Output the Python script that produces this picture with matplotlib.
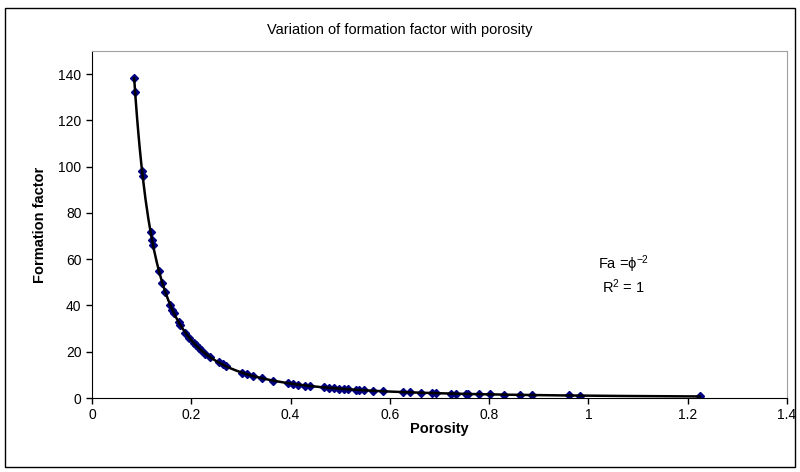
import numpy as np
import matplotlib
matplotlib.use("Agg")
import matplotlib.pyplot as plt
from matplotlib.patches import Rectangle

plt.rcParams["font.family"] = ["Liberation Sans", "DejaVu Sans"]
plt.rcParams["mathtext.fontset"] = "custom"
plt.rcParams["mathtext.rm"] = "Liberation Sans"
plt.rcParams["mathtext.it"] = "Liberation Sans:italic"

# porosity values
porosity = [0.085, 0.087, 0.101, 0.102, 0.118, 0.121, 0.123, 0.135, 0.142,
            0.148, 0.158, 0.162, 0.165, 0.175, 0.178, 0.188, 0.196, 0.205,
            0.21, 0.215, 0.22, 0.228, 0.238, 0.255, 0.263, 0.27, 0.303,
            0.313, 0.325, 0.343, 0.364, 0.394, 0.404, 0.414, 0.43, 0.44,
            0.467, 0.477, 0.487, 0.497, 0.507, 0.515, 0.531, 0.537, 0.547,
            0.566, 0.586, 0.626, 0.64, 0.663, 0.685, 0.693, 0.723, 0.733,
            0.754, 0.758, 0.779, 0.802, 0.83, 0.862, 0.887, 0.961, 0.984,
            1.224]
# formation factor values
formation = [138.4, 132.1, 98.0, 96.1, 71.8, 68.3, 66.1, 54.9, 49.6,
             45.7, 40.1, 38.1, 36.7, 32.7, 31.6, 28.3, 26.0, 23.8,
             22.7, 21.6, 20.7, 19.2, 17.7, 15.4, 14.5, 13.7, 10.9,
             10.2, 9.5, 8.5, 7.5, 6.4, 6.1, 5.8, 5.4, 5.2,
             4.6, 4.4, 4.2, 4.0, 3.9, 3.8, 3.5, 3.5, 3.3,
             3.1, 2.9, 2.6, 2.4, 2.3, 2.1, 2.1, 1.9, 1.9,
             1.8, 1.7, 1.6, 1.6, 1.5, 1.3, 1.3, 1.1, 1.0,
             0.7]

x_ticks = [0, 0.2, 0.4, 0.6, 0.8, 1, 1.2, 1.4]
x_labels = ["0", "0.2", "0.4", "0.6", "0.8", "1", "1.2", "1.4"]
y_ticks = [0, 20, 40, 60, 80, 100, 120, 140]

fig = plt.figure(figsize=(8, 4.72), dpi=100)
fig.patches.append(Rectangle((5 / 800, 5 / 472), 790 / 800, 459 / 472,
                             transform=fig.transFigure, fill=False,
                             edgecolor="black", linewidth=1))

ax = fig.add_axes([92 / 800, 1 - 398 / 472, 695 / 800, 347 / 472])

# power trendline fitted to the data (log-log least squares)
b, log_a = np.polyfit(np.log(porosity), np.log(formation), 1)
xs = np.linspace(min(porosity), max(porosity), 400)
ax.plot(xs, np.exp(log_a) * xs ** b, color="black", linewidth=1.8, zorder=3)

ax.plot(porosity, formation, linestyle="none", marker="D", markersize=4.5,
        color="#000080", markeredgecolor="#000080", zorder=2)

ax.set_xlim(0, 1.4)
ax.set_ylim(0, 150)
ax.set_xticks(x_ticks)
ax.set_xticklabels(x_labels)
ax.set_yticks(y_ticks)
ax.tick_params(direction="out", length=4, width=1, labelsize=10, colors="black")
ax.tick_params(axis="x", pad=3)

for side in ["top", "right"]:
    ax.spines[side].set_color("#a0a0a0")
for side in ["left", "bottom"]:
    ax.spines[side].set_color("black")

ax.set_xlabel("Porosity", fontsize=10.5, fontweight="bold", labelpad=0)
ax.set_ylabel("Formation factor", fontsize=10.5, fontweight="bold", labelpad=8)

ax.text(1.07, 58, "Fa =ϕ$^{-2}$", fontsize=10.5, ha="center", va="center")
ax.text(1.07, 48, "R$^{2}$ = 1", fontsize=10.5, ha="center", va="center")

fig.text(0.5, 1 - 30 / 472, "Variation of formation factor with porosity",
         ha="center", va="center", fontsize=10.5)

fig.savefig("out.png", dpi=100)
